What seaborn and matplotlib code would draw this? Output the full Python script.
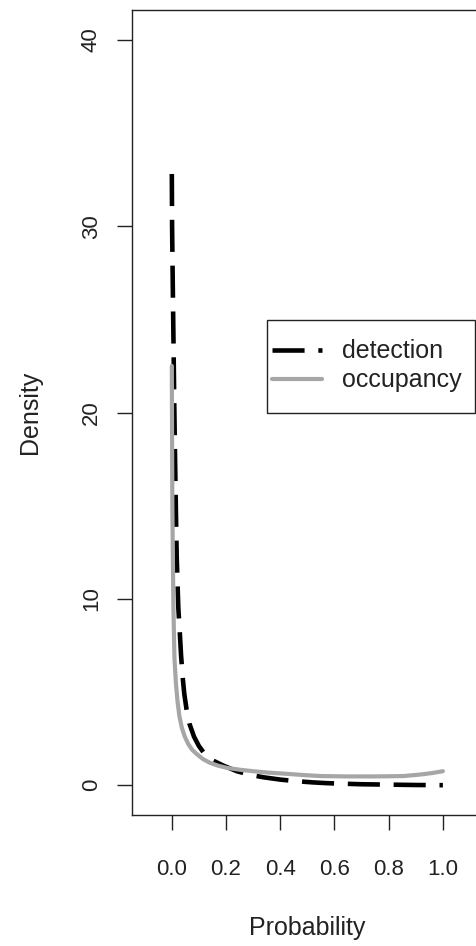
import matplotlib
matplotlib.use("Agg")
import matplotlib.pyplot as plt
from matplotlib.patches import Rectangle
import seaborn as sns
import pandas as pd

# Posterior density curves
det_x = [0.0, 0.001, 0.003, 0.006, 0.009, 0.012, 0.015, 0.018, 0.024, 0.029, 0.034,
         0.040, 0.046, 0.055, 0.065, 0.082, 0.10, 0.12, 0.148, 0.19, 0.24, 0.29,
         0.34, 0.40, 0.455, 0.52, 0.57, 0.63, 0.70, 0.80, 0.90, 1.0]
det_y = [32.8, 30.0, 27.5, 24.0, 20.5, 17.5, 14.8, 12.3, 9.5, 8.3, 7.0,
         5.8, 4.9, 4.0, 3.3, 2.6, 2.1, 1.7, 1.35, 1.05, 0.75, 0.55,
         0.42, 0.30, 0.22, 0.15, 0.11, 0.08, 0.05, 0.03, 0.01, 0.0]

occ_x = [0.0, 0.001, 0.002, 0.004, 0.006, 0.0096, 0.015, 0.021, 0.028, 0.037,
         0.048, 0.061, 0.075, 0.092, 0.115, 0.141, 0.17, 0.203, 0.25, 0.30,
         0.36, 0.424, 0.49, 0.55, 0.65, 0.75, 0.855, 0.916, 0.96, 1.0]
occ_y = [22.5, 18.5, 15.0, 12.0, 9.5, 6.85, 5.5, 4.5, 3.7, 3.08,
         2.6, 2.2, 1.9, 1.67, 1.4, 1.2, 1.05, 0.93, 0.83, 0.75,
         0.67, 0.61, 0.54, 0.49, 0.47, 0.47, 0.49, 0.57, 0.65, 0.75]

x_ticks = [0.0, 0.2, 0.4, 0.6, 0.8, 1.0]
x_tick_labels = ["0.0", "0.2", "0.4", "0.6", "0.8", "1.0"]
y_ticks = [0, 10, 20, 30, 40]
y_tick_labels = ["0", "10", "20", "30", "40"]

sns.set_style("ticks")
plt.rcParams["font.family"] = ["Liberation Sans", "DejaVu Sans"]

INK = "#222222"
W, H, DPI = 477, 946, 100
fig = plt.figure(figsize=(W / DPI, H / DPI), dpi=DPI)
# axes box in pixels: left 131.7, right 483, top 10, bottom 815
L, R, T, B = 131.7, 483.0, 10.0, 815.0
ax = fig.add_axes([L / W, (H - B) / H, (R - L) / W, (B - T) / H])


def ax_x(px):
    return (px - L) / (R - L)


def ax_y(py):
    return (B - py) / (B - T)


det = pd.DataFrame({"Probability": det_x, "Density": det_y})
occ = pd.DataFrame({"Probability": occ_x, "Density": occ_y})

sns.lineplot(data=det, x="Probability", y="Density", ax=ax, color="black",
             lw=3.3, linestyle=(0, (7, 3)), label="detection", errorbar=None,
             dash_capstyle="butt")
sns.lineplot(data=occ, x="Probability", y="Density", ax=ax, color="#a6a6a6",
             lw=3.0, label="occupancy", errorbar=None)

ax.set_xlim(-0.148, 1.148)
ax.set_ylim(-1.6, 41.6)
ax.set_xticks(x_ticks)
ax.set_xticklabels(x_tick_labels)
ax.set_yticks(y_ticks)
ax.set_yticklabels(y_tick_labels, rotation=90, va="center")

for s in ax.spines.values():
    s.set_color(INK)
    s.set_linewidth(1.0)
ax.tick_params(axis="both", length=10.5, width=1.0, color=INK,
               labelsize=16, labelcolor=INK)
ax.tick_params(axis="x", pad=21)
ax.tick_params(axis="y", pad=11)

ax.set_xlabel("Probability", fontsize=18, color=INK, va="baseline")
ax.set_ylabel("Density", fontsize=18, color=INK, va="baseline")
ax.xaxis.set_label_coords(0.5, ax_y(935))
ax.yaxis.set_label_coords(ax_x(36.7), 0.5)

# legend entries, with a square frame drawn around them
leg = ax.legend(loc="center left", bbox_to_anchor=(ax_x(271.7), ax_y(365.9)),
                borderaxespad=0, borderpad=0, fontsize=18, frameon=False,
                handlelength=2.0, handletextpad=0.8, labelspacing=0.2,
                labelcolor=INK)
ax.add_patch(Rectangle((ax_x(267), ax_y(413)), ax_x(475) - ax_x(267),
                       ax_y(320) - ax_y(413), transform=ax.transAxes,
                       fill=False, edgecolor=INK, linewidth=1.0, clip_on=False,
                       zorder=5))

fig.savefig("out.png", dpi=DPI)
